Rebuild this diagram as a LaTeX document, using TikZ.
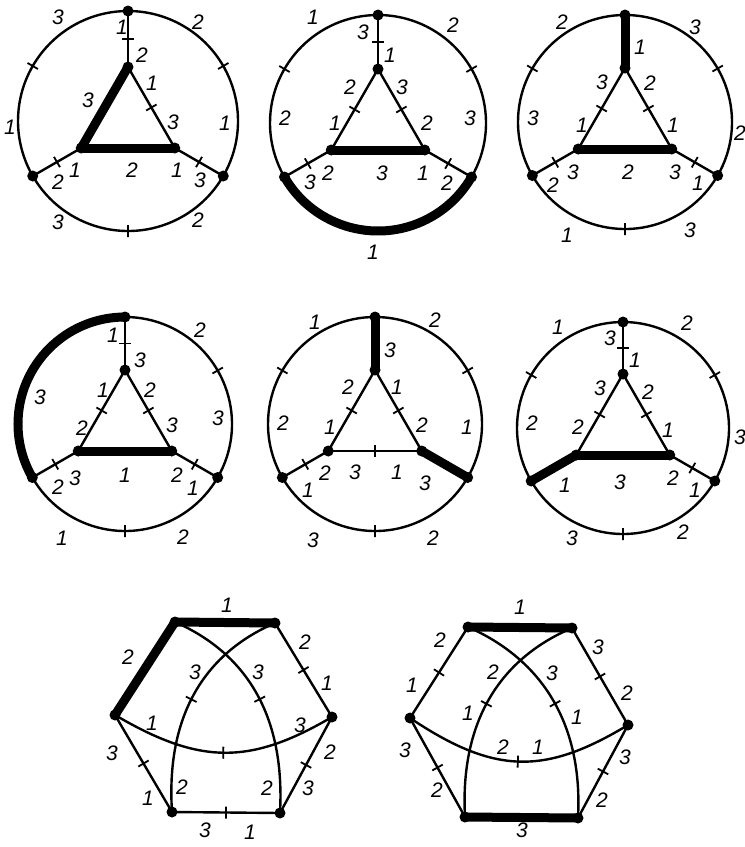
\documentclass[tikz,border=0pt]{standalone}
\usepackage{fontspec}
\setmainfont{Liberation Sans}
\usetikzlibrary{calc,decorations.markings}
\newcounter{lc}
\newcommand\lb[3]{\stepcounter{lc}\node[lbl] (lb\arabic{lc}) at (#1,-#2) {#3};}
\newcommand\wheel[4]{%
 \coordinate (#1c) at (#2,-#3);
 \node[dot] (#1T) at ($(#1c)+(90:#4)$) {};
 \node[dot] (#1L) at ($(#1c)+(210:#4)$) {};
 \node[dot] (#1R) at ($(#1c)+(330:#4)$) {};
 \node[dot] (#1t) at ($(#1c)+(90:54)$) {};
 \node[dot] (#1l) at ($(#1c)+(210:54)$) {};
 \node[dot] (#1r) at ($(#1c)+(330:54)$) {};
}
\begin{document}
\begin{tikzpicture}[x=1pt,y=1pt,
  dot/.style={circle,fill=black,inner sep=0pt,minimum size=11pt},
  lbl/.style={inner sep=0pt,font=\fontsize{21}{21}\selectfont\itshape},
  thn/.style={line width=2.4pt,postaction={decorate,decoration={markings,
     mark=at position 0.5 with {\draw[line width=1.8pt] (0,-6pt) -- (0,6pt);}}}},
  thk/.style={line width=9pt,line cap=round}]
\useasboundingbox (0,0) rectangle (745,-847);
% ---------- circle 1
\wheel{a}{128}{121}{110}
\draw[thn] (aT.center) -- (at.center);
\draw[thn] (aL.center) -- (al.center);
\draw[thn] (aR.center) -- (ar.center);
\draw[thk] (at.center) -- (al.center);
\draw[thk] (al.center) -- (ar.center);
\draw[thn] (ar.center) -- (at.center);
\draw[thn] (aT.center) arc[start angle=90,end angle=210,radius=110];
\draw[thn] (aL.center) arc[start angle=210,end angle=330,radius=110];
\draw[thn] (aR.center) arc[start angle=-30,end angle=90,radius=110];
\lb{122}{27}{1} \lb{142}{55}{2} \lb{58}{17}{3} \lb{10}{127}{1} \lb{198}{22}{2} \lb{225}{123}{1}
\lb{88}{100}{3} \lb{152}{83}{1} \lb{173}{122}{3} \lb{132}{170}{2} \lb{75}{170}{1} \lb{58}{182}{2}
\lb{177}{170}{1} \lb{200}{180}{3} \lb{58}{222}{3} \lb{198}{220}{2}
% ---------- circle 2
\wheel{b}{378}{123}{108}
\draw[thn] (bT.center) -- (bt.center);
\draw[thn] (bL.center) -- (bl.center);
\draw[thn] (bR.center) -- (br.center);
\draw[thn] (bt.center) -- (bl.center);
\draw[thk] (bl.center) -- (br.center);
\draw[thn] (br.center) -- (bt.center);
\draw[thn] (bT.center) arc[start angle=90,end angle=210,radius=108];
\draw[thk] (bL.center) arc[start angle=210,end angle=330,radius=108];
\draw[thn] (bR.center) arc[start angle=-30,end angle=90,radius=108];
\lb{313}{17}{1} \lb{285}{118}{2} \lb{363}{32}{3} \lb{390}{55}{1} \lb{453}{25}{2} \lb{470}{118}{3}
\lb{350}{87}{2} \lb{335}{123}{1} \lb{402}{87}{3} \lb{427}{123}{2} \lb{382}{173}{3} \lb{328}{173}{2}
\lb{310}{182}{3} \lb{423}{173}{1} \lb{447}{183}{2} \lb{373}{252}{1}
% ---------- circle 3
\wheel{c}{625}{122}{107}
\draw[thk] (cT.center) -- (ct.center);
\draw[thn] (cL.center) -- (cl.center);
\draw[thn] (cR.center) -- (cr.center);
\draw[thn] (ct.center) -- (cl.center);
\draw[thk] (cl.center) -- (cr.center);
\draw[thn] (cr.center) -- (ct.center);
\draw[thn] (cT.center) arc[start angle=90,end angle=210,radius=107];
\draw[thn] (cL.center) arc[start angle=210,end angle=330,radius=107];
\draw[thn] (cR.center) arc[start angle=-30,end angle=90,radius=107];
\lb{562}{22}{2} \lb{533}{118}{3} \lb{695}{27}{3} \lb{740}{133}{2} \lb{640}{47}{1} \lb{602}{82}{3}
\lb{582}{125}{1} \lb{650}{83}{2} \lb{673}{125}{1} \lb{628}{172}{2} \lb{573}{172}{3} \lb{553}{185}{2}
\lb{675}{172}{3} \lb{698}{183}{1} \lb{567}{235}{1} \lb{690}{230}{3}
% ---------- circle 4
\wheel{d}{125}{424}{107}
\draw[thn] (dT.center) -- (dt.center);
\draw[thn] (dL.center) -- (dl.center);
\draw[thn] (dR.center) -- (dr.center);
\draw[thn] (dt.center) -- (dl.center);
\draw[thk] (dl.center) -- (dr.center);
\draw[thn] (dr.center) -- (dt.center);
\draw[thk] (dT.center) arc[start angle=90,end angle=210,radius=107];
\draw[thn] (dL.center) arc[start angle=210,end angle=330,radius=107];
\draw[thn] (dR.center) arc[start angle=-30,end angle=90,radius=107];
\lb{113}{335}{1} \lb{140}{360}{3} \lb{200}{330}{2} \lb{218}{418}{3} \lb{40}{397}{3} \lb{103}{390}{1}
\lb{82}{428}{2} \lb{150}{390}{2} \lb{172}{425}{3} \lb{125}{475}{1} \lb{75}{478}{3} \lb{58}{487}{2}
\lb{177}{475}{2} \lb{193}{488}{1} \lb{62}{538}{1} \lb{183}{537}{2}
% ---------- circle 5
\wheel{e}{375}{424}{107}
\draw[thk] (eT.center) -- (et.center);
\draw[thn] (eL.center) -- (el.center);
\draw[thk] (eR.center) -- (er.center);
\draw[thn] (et.center) -- (el.center);
\draw[thn] (el.center) -- (er.center);
\draw[thn] (er.center) -- (et.center);
\draw[thn] (eT.center) arc[start angle=90,end angle=210,radius=107];
\draw[thn] (eL.center) arc[start angle=210,end angle=330,radius=107];
\draw[thn] (eR.center) arc[start angle=-30,end angle=90,radius=107];
\lb{315}{322}{1} \lb{283}{423}{2} \lb{435}{320}{2} \lb{467}{427}{1} \lb{390}{350}{3} \lb{348}{387}{2}
\lb{330}{427}{1} \lb{397}{387}{1} \lb{422}{425}{2} \lb{355}{472}{3} \lb{397}{472}{1} \lb{325}{473}{2}
\lb{308}{490}{1} \lb{425}{483}{3} \lb{313}{540}{3} \lb{433}{538}{2}
% ---------- circle 6
\wheel{f}{623}{428}{106}
\draw[thn] (fT.center) -- (ft.center);
\draw[thk] (fL.center) -- (fl.center);
\draw[thn] (fR.center) -- (fr.center);
\draw[thn] (ft.center) -- (fl.center);
\draw[thk] (fl.center) -- (fr.center);
\draw[thn] (fr.center) -- (ft.center);
\draw[thn] (fT.center) arc[start angle=90,end angle=210,radius=106];
\draw[thn] (fL.center) arc[start angle=210,end angle=330,radius=106];
\draw[thn] (fR.center) arc[start angle=-30,end angle=90,radius=106];
\lb{558}{327}{1} \lb{532}{423}{2} \lb{687}{323}{2} \lb{740}{437}{3} \lb{610}{338}{3} \lb{635}{360}{1}
\lb{600}{388}{3} \lb{578}{427}{2} \lb{648}{392}{2} \lb{668}{430}{1} \lb{620}{482}{3} \lb{565}{485}{1}
\lb{673}{478}{2} \lb{695}{490}{1} \lb{572}{538}{3} \lb{683}{532}{2}
% ---------- hexagon 1
\node[dot] (gA) at (175,-622) {};
\node[dot] (gB) at (275,-623) {};
\node[dot] (gC) at (332,-717) {};
\node[dot] (gD) at (280,-813) {};
\node[dot] (gE) at (172,-812) {};
\node[dot] (gF) at (115,-715) {};
\draw[thk] (gA.center) -- (gB.center);
\draw[thn] (gB.center) -- (gC.center);
\draw[thn] (gC.center) -- (gD.center);
\draw[thn] (gD.center) -- (gE.center);
\draw[thn] (gE.center) -- (gF.center);
\draw[thk] (gF.center) -- (gA.center);
\draw[thn] (gA.center) .. controls (250,-655) and (285,-720) .. (gD.center);
\draw[thn] (gB.center) .. controls (201,-655) and (166,-720) .. (gE.center);
\draw[thn] (gF.center) .. controls (200,-765) and (250,-765) .. (gC.center);
\lb{227}{605}{1} \lb{128}{657}{2} \lb{305}{642}{2} \lb{327}{683}{1} \lb{330}{752}{2} \lb{308}{788}{3}
\lb{205}{830}{3} \lb{250}{832}{1} \lb{112}{753}{3} \lb{148}{798}{1} \lb{195}{672}{3} \lb{182}{787}{2}
\lb{258}{672}{3} \lb{267}{788}{2} \lb{152}{723}{1} \lb{300}{725}{3}
% ---------- hexagon 2
\node[dot] (hA) at (468,-627) {};
\node[dot] (hB) at (572,-628) {};
\node[dot] (hC) at (628,-725) {};
\node[dot] (hD) at (578,-818) {};
\node[dot] (hE) at (465,-817) {};
\node[dot] (hF) at (410,-718) {};
\draw[thk] (hA.center) -- (hB.center);
\draw[thn] (hB.center) -- (hC.center);
\draw[thn] (hC.center) -- (hD.center);
\draw[thk] (hD.center) -- (hE.center);
\draw[thn] (hE.center) -- (hF.center);
\draw[thn] (hF.center) -- (hA.center);
\draw[thn] (hA.center) .. controls (543,-660) and (583,-725) .. (hD.center);
\draw[thn] (hB.center) .. controls (497,-660) and (460,-725) .. (hE.center);
\draw[thn] (hF.center) .. controls (495,-775) and (545,-775) .. (hC.center);
\lb{520}{607}{1} \lb{440}{640}{2} \lb{412}{685}{1} \lb{598}{647}{3} \lb{627}{693}{2} \lb{625}{757}{3}
\lb{602}{800}{2} \lb{405}{750}{3} \lb{437}{790}{2} \lb{493}{672}{2} \lb{468}{713}{1} \lb{552}{673}{3}
\lb{577}{717}{1} \lb{503}{747}{2} \lb{538}{747}{1} \lb{522}{830}{3}
\end{tikzpicture}
\end{document}
